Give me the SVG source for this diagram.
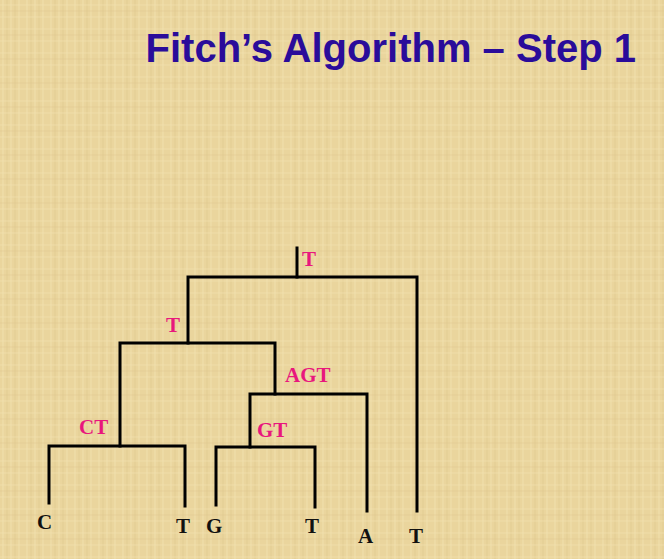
<svg xmlns="http://www.w3.org/2000/svg" width="664" height="559" viewBox="0 0 664 559">
  <defs>
    <pattern id="weave" width="24" height="24" patternUnits="userSpaceOnUse">
      <rect width="24" height="24" fill="#ead59d"/>
      <path d="M3 0V24M11 0V24M19 0V24" stroke="#f3e3b4" stroke-width="1" opacity="0.7"/>
      <path d="M7 0V24M15 0V24" stroke="#dcc288" stroke-width="1" opacity="0.5"/>
      <path d="M0 5H24M0 17H24" stroke="#f2e1b0" stroke-width="1" opacity="0.6"/>
      <path d="M0 11H24" stroke="#dbc087" stroke-width="1" opacity="0.4"/>
    </pattern>
    <style>
      .title { font-family: "Liberation Sans", Arial, sans-serif; font-weight: bold; font-size: 40px; fill: #2a0c9a; }
      .inner { font-family: "Liberation Serif", "Times New Roman", serif; font-weight: bold; font-size: 21px; fill: #e8177d; }
      .leaf { font-family: "Liberation Serif", "Times New Roman", serif; font-weight: bold; font-size: 21px; fill: #111111; }
      .edge { fill: none; stroke: #000000; stroke-width: 3; stroke-linecap: square; stroke-linejoin: miter; }
    </style>
  </defs>
  <rect width="664" height="559" fill="url(#weave)"/>
  <text class="title" x="636" y="62" text-anchor="end">Fitch’s Algorithm – Step 1</text>

  <g id="connectors">
    <path class="edge" d="M297 248V277"/>
    <path class="edge" d="M188 343V277H417V511"/>
    <path class="edge" d="M120 446V343H275V394"/>
    <path class="edge" d="M49 503V446H185V506"/>
    <path class="edge" d="M250 447V394H367V511"/>
    <path class="edge" d="M216 505V447H315V507"/>
  </g>

  <g id="node-root"><text class="inner" x="302" y="266">T</text></g>
  <g id="node-left"><text class="inner" x="166" y="332">T</text></g>
  <g id="node-agt"><text class="inner" x="285" y="382">AGT</text></g>
  <g id="node-ct"><text class="inner" x="79" y="434">CT</text></g>
  <g id="node-gt"><text class="inner" x="257" y="437">GT</text></g>

  <g id="leaf-c"><text class="leaf" x="37" y="529">C</text></g>
  <g id="leaf-t1"><text class="leaf" x="176" y="533">T</text></g>
  <g id="leaf-g"><text class="leaf" x="206" y="533">G</text></g>
  <g id="leaf-t2"><text class="leaf" x="305" y="533">T</text></g>
  <g id="leaf-a"><text class="leaf" x="358" y="543">A</text></g>
  <g id="leaf-t3"><text class="leaf" x="409" y="543">T</text></g>
</svg>
